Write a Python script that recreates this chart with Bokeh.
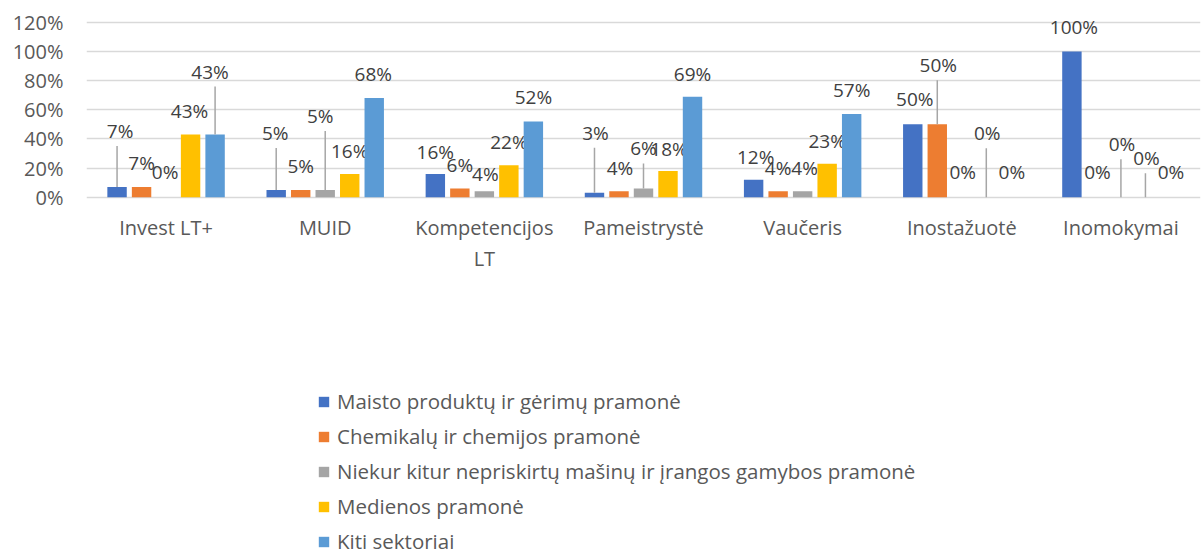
from bokeh.plotting import figure
from bokeh.models import (ColumnDataSource, FactorRange, Range1d, FixedTicker,
                          NumeralTickFormatter, Legend, LegendItem, CustomJSTickFormatter)
from bokeh.transform import dodge
from bokeh.core.properties import value
from bokeh.embed import file_html
from bokeh.resources import INLINE

# ---------------- data ----------------
categories = ["Invest LT+", "MUID", "Kompetencijos LT", "Pameistrystė",
              "Vaučeris", "Inostažuotė", "Inomokymai"]
series_names = ["Maisto produktų ir gėrimų pramonė",
                "Chemikalų ir chemijos pramonė",
                "Niekur kitur nepriskirtų mašinų ir įrangos gamybos pramonė",
                "Medienos pramonė",
                "Kiti sektoriai"]
maisto = [0.07, 0.05, 0.16, 0.03, 0.12, 0.50, 1.00]
chemikalu = [0.07, 0.05, 0.06, 0.04, 0.04, 0.50, 0.00]
niekur = [0.00, 0.05, 0.04, 0.06, 0.04, 0.00, 0.00]
medienos = [0.43, 0.16, 0.22, 0.18, 0.23, 0.00, 0.00]
kiti = [0.43, 0.68, 0.52, 0.69, 0.57, 0.00, 0.00]
y_ticks = [0, 0.2, 0.4, 0.6, 0.8, 1.0, 1.2]

# ---------------- label placement (screen px, relative to bar top) ----------------
label_dx = [
    [3, -1, 0, 1, 2, 2, 2],
    [0, 0, 0, 1, 0, 1, 1],
    [-1, -5, 1, 0, 2, 1, 1],
    [-1, 0, 0, 1, 0, 1, 1],
    [-5, -1, 0, 0, 0, 1, 1],
]
label_dy = [
    [-56, -57, -22, -60, -23, -25, -24],
    [-24, -24, -23, -23, -23, -59, -25],
    [-25, -74, -17, -40, -23, -25, -53],
    [-24, -23, -23, -22, -23, -64, -39],
    [-63, -24, -24, -23, -24, -25, -25],
]
leader = [
    [1, 1, 0, 1, 0, 0, 0],
    [0, 0, 0, 0, 0, 1, 0],
    [0, 1, 0, 1, 0, 0, 1],
    [0, 0, 0, 0, 0, 1, 1],
    [1, 0, 0, 0, 0, 0, 0],
]

colors = ["#4472C4", "#ED7D31", "#A5A5A5", "#FFC000", "#5B9BD5"]
values = [maisto, chemikalu, niekur, medienos, kiti]

# ---------------- layout ----------------
W, H = 1202, 555
BORDER_L, BORDER_R, BORDER_T = 86, 2, 16
ZERO_PX = 196.7      # canvas y of 0 %
TOP_PX = 21.8        # canvas y of 120 %
px_per_unit = (ZERO_PX - TOP_PX) / 1.2
frame_h = H - BORDER_T
y_end = 1.2 + (TOP_PX - BORDER_T) / px_per_unit
y_start = y_end - frame_h / px_per_unit

FONT = "Open Sans"

p = figure(width=W, height=H, x_range=FactorRange(*categories, range_padding=0),
           y_range=Range1d(y_start, y_end), output_backend="svg",
           toolbar_location=None, min_border_left=BORDER_L, min_border_right=BORDER_R,
           min_border_top=BORDER_T, min_border_bottom=0)
p.outline_line_color = None

pitch = 0.154
bar_w = 0.122
offsets = [-2 * pitch, -pitch, 0, pitch, 2 * pitch]

renderers = []
for i in range(5):
    vals = values[i]
    tops = [v + (-dy - 15) / px_per_unit for v, dy in zip(vals, label_dy[i])]
    src = ColumnDataSource(dict(
        cat=categories, val=vals,
        lab=[f"{round(v * 100)}%" for v in vals],
        dx=label_dx[i], dy=label_dy[i]))
    r = p.vbar(x=dodge("cat", offsets[i], range=p.x_range), top="val", width=bar_w,
               source=src, fill_color=colors[i], line_color=None)
    renderers.append(r)
    lsrc = ColumnDataSource(dict(
        cat=[c for c, f in zip(categories, leader[i]) if f],
        y0=[v for v, f in zip(vals, leader[i]) if f],
        y1=[t for t, f in zip(tops, leader[i]) if f]))
    p.segment(x0=dodge("cat", offsets[i], range=p.x_range), y0="y0",
              x1=dodge("cat", offsets[i], range=p.x_range), y1="y1",
              source=lsrc, line_color="#A6A6A6", line_width=1.5)
    p.text(x=dodge("cat", offsets[i], range=p.x_range), y="val", text="lab",
           x_offset="dx", y_offset="dy", source=src,
           text_font=value(FONT), text_font_size="19px", text_color="#404040",
           text_align="center", text_baseline="middle")

# axes
p.yaxis.ticker = FixedTicker(ticks=y_ticks)
p.yaxis.formatter = NumeralTickFormatter(format="0%")
p.yaxis.axis_line_color = None
p.yaxis.major_tick_line_color = None
p.yaxis.minor_tick_line_color = None
p.yaxis.major_tick_out = 0
p.yaxis.major_label_standoff = 23
p.yaxis.major_label_text_font = FONT
p.yaxis.major_label_text_font_size = "20px"
p.yaxis.major_label_text_color = "#595959"

p.xaxis.fixed_location = 0
p.xaxis.axis_line_color = None
p.xaxis.major_tick_line_color = None
p.xaxis.minor_tick_line_color = None
p.xaxis.major_tick_out = 0
p.xaxis.major_label_standoff = 17
p.xaxis.major_label_text_font = FONT
p.xaxis.major_label_text_font_size = "20px"
p.xaxis.major_label_text_color = "#595959"
# wrap the long category label: first line on the axis, second line as text below
p.xaxis.formatter = CustomJSTickFormatter(
    code="return tick === 'Kompetencijos LT' ? 'Kompetencijos' : tick;")
p.text(x=["Kompetencijos LT"], y=[0], text=["LT"], y_offset=61,
       text_font=value(FONT), text_font_size="20px", text_color="#595959",
       text_align="center", text_baseline="middle")

p.xgrid.grid_line_color = None
p.ygrid.ticker = FixedTicker(ticks=y_ticks)
p.ygrid.grid_line_color = "#D9D9D9"
p.ygrid.grid_line_width = 1.5

legend = Legend(items=[LegendItem(label=n, renderers=[r]) for n, r in zip(series_names, renderers)],
                location=(231, 0), orientation="vertical",
                glyph_width=13, glyph_height=13, label_standoff=7,
                label_text_font=FONT, label_text_font_size="20.5px",
                label_text_color="#595959", label_height=20, spacing=7,
                padding=0, margin=0, border_line_color=None,
                background_fill_alpha=0)
p.add_layout(legend)

open("out.html", "w").write(file_html(p, INLINE))
